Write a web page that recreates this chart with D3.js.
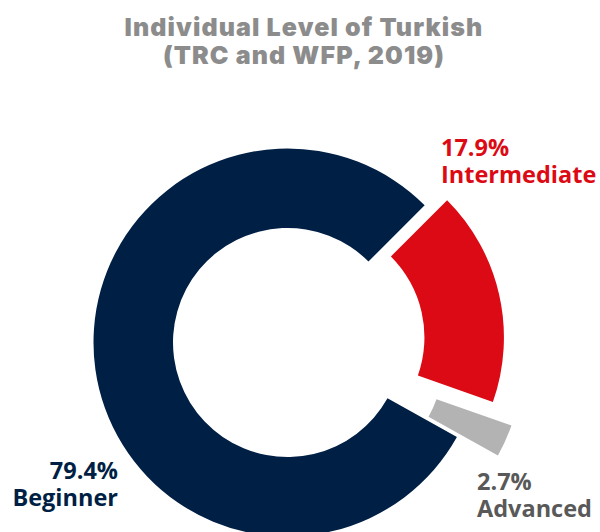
<!DOCTYPE html>
<html>
<head>
<meta charset="utf-8">
<script src="https://cdn.jsdelivr.net/npm/d3@7"></script>
<style>
body { margin: 0; background: #fff; }
</style>
</head>
<body>
<div id="chart"></div>
<script>
// data
var levels = ["Beginner", "Intermediate", "Advanced"];
var shares = [79.4, 17.9, 2.7];
var titleLines = ["Individual Level of Turkish", "(TRC and WFP, 2019)"];

var colors = ["#001f44", "#dc0a14", "#b3b3b3"];
var textColors = ["#001f44", "#dc0a14", "#595959"];

var width = 600,
	height = 532;
var cx = 287.5,
	cy = 342.5;
var outer = 194,
	inner = 114.5;

// how far each slice is pulled out
var explode = { "Beginner": 0, "Intermediate": 23, "Advanced": 45 };
// label anchor per slice
var labelPos = {
	"Beginner":     { x: 118, y: 479, anchor: "end" },
	"Intermediate": { x: 441, y: 156, anchor: "start" },
	"Advanced":     { x: 477, y: 490, anchor: "start" }
};

var svg = d3.select("#chart")
	.append("svg")
	.attr("width", width)
	.attr("height", height);

// title
svg.append("g")
	.selectAll("text")
	.data(titleLines)
	.enter().append("text")
	.attr("x", 304)
	.attr("y", function(d, i) { return 36 + i * 28; })
	.style("text-anchor", "middle")
	.style("font-family", "Inter, sans-serif")
	.style("font-weight", 900)
	.style("font-size", "25px")
	.style("letter-spacing", "1.1px")
	.style("fill", "#8c8c8c")
	.text(function(d) { return d; });

// pie: intermediate slice starts at 45deg
var data = levels.map(function(l, i) { return { level: l, share: shares[i], i: i }; });
var a0 = Math.PI / 4 - 2 * Math.PI * shares[0] / d3.sum(shares);
var pie = d3.pie()
	.sort(null)
	.value(function(d) { return d.share; })
	.startAngle(a0)
	.endAngle(a0 + 2 * Math.PI);

var arc = d3.arc()
	.innerRadius(inner)
	.outerRadius(outer);

var g = svg.append("g")
	.attr("transform", "translate(" + cx + "," + cy + ")");

g.selectAll("path")
	.data(pie(data))
	.enter().append("path")
	.attr("d", arc)
	.attr("fill", function(d) { return colors[d.data.i]; })
	.attr("transform", function(d) {
		var mid = (d.startAngle + d.endAngle) / 2;
		var off = explode[d.data.level];
		return "translate(" + (Math.sin(mid) * off) + "," + (-Math.cos(mid) * off) + ")";
	});

// labels
var labels = svg.append("g")
	.selectAll("text")
	.data(data)
	.enter().append("text")
	.attr("x", function(d) { return labelPos[d.level].x; })
	.attr("y", function(d) { return labelPos[d.level].y; })
	.style("text-anchor", function(d) { return labelPos[d.level].anchor; })
	.style("font-family", "'Open Sans', sans-serif")
	.style("font-weight", 700)
	.style("font-size", "23.5px")
	.style("fill", function(d) { return textColors[d.i]; });

labels.append("tspan")
	.attr("x", function(d) { return labelPos[d.level].x; })
	.text(function(d) { return d.share.toFixed(1) + "%"; });
labels.append("tspan")
	.attr("x", function(d) { return labelPos[d.level].x; })
	.attr("dy", 27)
	.text(function(d) { return d.level; });
</script>
</body>
</html>
